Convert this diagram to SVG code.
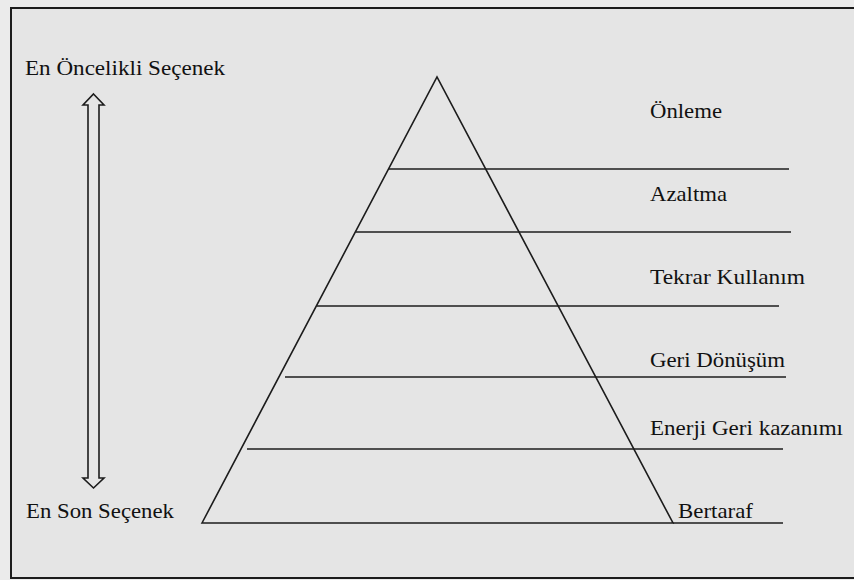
<svg xmlns="http://www.w3.org/2000/svg" width="854" height="580" viewBox="0 0 854 580">
  <style>
    .lbl { font-family: 'Times New Roman', 'Liberation Serif', 'DejaVu Serif', serif; font-size: 21px; fill: #111; }
    .ln { stroke: #1c1c1c; stroke-width: 1.6; fill: none; }
  </style>
  <!-- page and frame -->
  <rect x="0" y="0" width="854" height="580" fill="#ebebeb"/>
  <rect x="11" y="8" width="852" height="570" fill="#e5e5e5" stroke="#1c1c1c" stroke-width="2"/>

  <!-- priority scale: hollow double arrow -->
  <g id="scale-arrow">
    <path class="ln" fill="#e5e5e5" stroke-width="1.5" d="M93.5,94 L104,105 L99,105 L99,478 L104,478 L93.5,488 L83,478 L88,478 L88,105 L83,105 Z"/>
    <text class="lbl" x="25" y="75" textLength="200" lengthAdjust="spacingAndGlyphs">En Öncelikli Seçenek</text>
    <text class="lbl" x="26" y="518" textLength="148" lengthAdjust="spacingAndGlyphs">En Son Seçenek</text>
  </g>

  <!-- pyramid outline -->
  <g id="pyramid">
    <path class="ln" d="M202,523 L437,77 L673,523 Z"/>
  </g>

  <!-- tier dividers -->
  <g id="dividers">
    <line class="ln" x1="388" y1="169" x2="789" y2="169"/>
    <line class="ln" x1="356" y1="232" x2="791" y2="232"/>
    <line class="ln" x1="317" y1="306" x2="779" y2="306"/>
    <line class="ln" x1="285" y1="377" x2="786" y2="377"/>
    <line class="ln" x1="247" y1="449" x2="783" y2="449"/>
    <line class="ln" x1="673" y1="523" x2="783" y2="523"/>
  </g>

  <!-- tier labels -->
  <g id="tier-onleme"><text class="lbl" x="650" y="118" textLength="72" lengthAdjust="spacingAndGlyphs">Önleme</text></g>
  <g id="tier-azaltma"><text class="lbl" x="650" y="201" textLength="77" lengthAdjust="spacingAndGlyphs">Azaltma</text></g>
  <g id="tier-tekrar"><text class="lbl" x="650" y="284" textLength="155" lengthAdjust="spacingAndGlyphs">Tekrar Kullanım</text></g>
  <g id="tier-geri-donusum"><text class="lbl" x="650" y="367" textLength="135" lengthAdjust="spacingAndGlyphs">Geri Dönüşüm</text></g>
  <g id="tier-enerji"><text class="lbl" x="650" y="435" textLength="193" lengthAdjust="spacingAndGlyphs">Enerji Geri kazanımı</text></g>
  <g id="tier-bertaraf"><text class="lbl" x="678" y="518" textLength="75" lengthAdjust="spacingAndGlyphs">Bertaraf</text></g>
</svg>
